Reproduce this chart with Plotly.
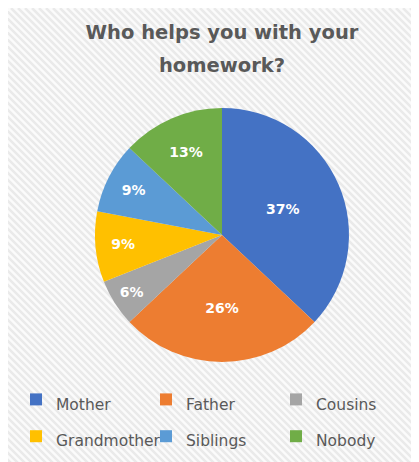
import base64

import plotly.graph_objects as go

labels = ["Mother", "Father", "Cousins", "Grandmother", "Siblings", "Nobody"]
shares = [37, 26, 6, 9, 9, 13]
colors = ["#4472C4", "#ED7D31", "#A5A5A5", "#FFC000", "#5B9BD5", "#70AD47"]
title_lines = ["Who helps you with your", "homework?"]

# page body adds an 8px margin, so the figure itself is the hatched chart area
W, H = 411, 454

# hatched chart-area background, like the Office chart style
stripes = "".join(
    f'<line x1="{i}" y1="0" x2="{i + 470}" y2="470" stroke="#eaeaea" stroke-width="2.5"/>'
    for i in range(-480, 420, 7)
)
svg = (
    f'<svg xmlns="http://www.w3.org/2000/svg" width="{W}" height="{H}">'
    f'<rect width="{W}" height="{H}" fill="#fbfbfb"/>{stripes}</svg>'
)
bg_uri = "data:image/svg+xml;base64," + base64.b64encode(svg.encode()).decode()


def small(text, px):
    # big nominal font gives the roomy line spacing, span sets the glyph size
    return f'<span style="font-size:{px}px">{text}</span>'


fig = go.Figure(
    go.Pie(
        labels=[small(lab, 15.5) for lab in labels],
        values=shares,
        sort=False,
        direction="clockwise",
        rotation=0,
        marker=dict(colors=colors, line=dict(width=0)),
        texttemplate="%{percent:.0%}",
        textposition="inside",
        insidetextorientation="horizontal",
        textfont=dict(family="DejaVu Sans", size=14, color="white", weight="bold"),
        domain=dict(x=[87 / W, 341 / W], y=[100 / H, 354 / H]),
        hoverinfo="percent",
    )
)

fig.update_layout(
    width=W,
    height=H,
    margin=dict(l=0, r=0, t=0, b=0),
    paper_bgcolor="white",
    title=dict(
        text="<br>".join(small(t, 19.5) for t in title_lines),
        x=214 / W,
        xanchor="center",
        y=1 - 31 / H,
        yanchor="middle",
        font=dict(family="DejaVu Sans", size=25, color="#595959", weight="bold"),
    ),
    legend=dict(
        orientation="h",
        x=8 / W,
        xanchor="left",
        y=1 - 368 / H,
        yanchor="top",
        entrywidth=85,
        entrywidthmode="pixels",
        font=dict(family="DejaVu Sans", size=26, color="#595959"),
        bgcolor="rgba(0,0,0,0)",
    ),
    images=[
        dict(
            source=bg_uri,
            xref="paper",
            yref="paper",
            x=0,
            y=1,
            sizex=1,
            sizey=1,
            xanchor="left",
            yanchor="top",
            sizing="stretch",
            layer="below",
        )
    ],
)

fig.write_html("out.html")
